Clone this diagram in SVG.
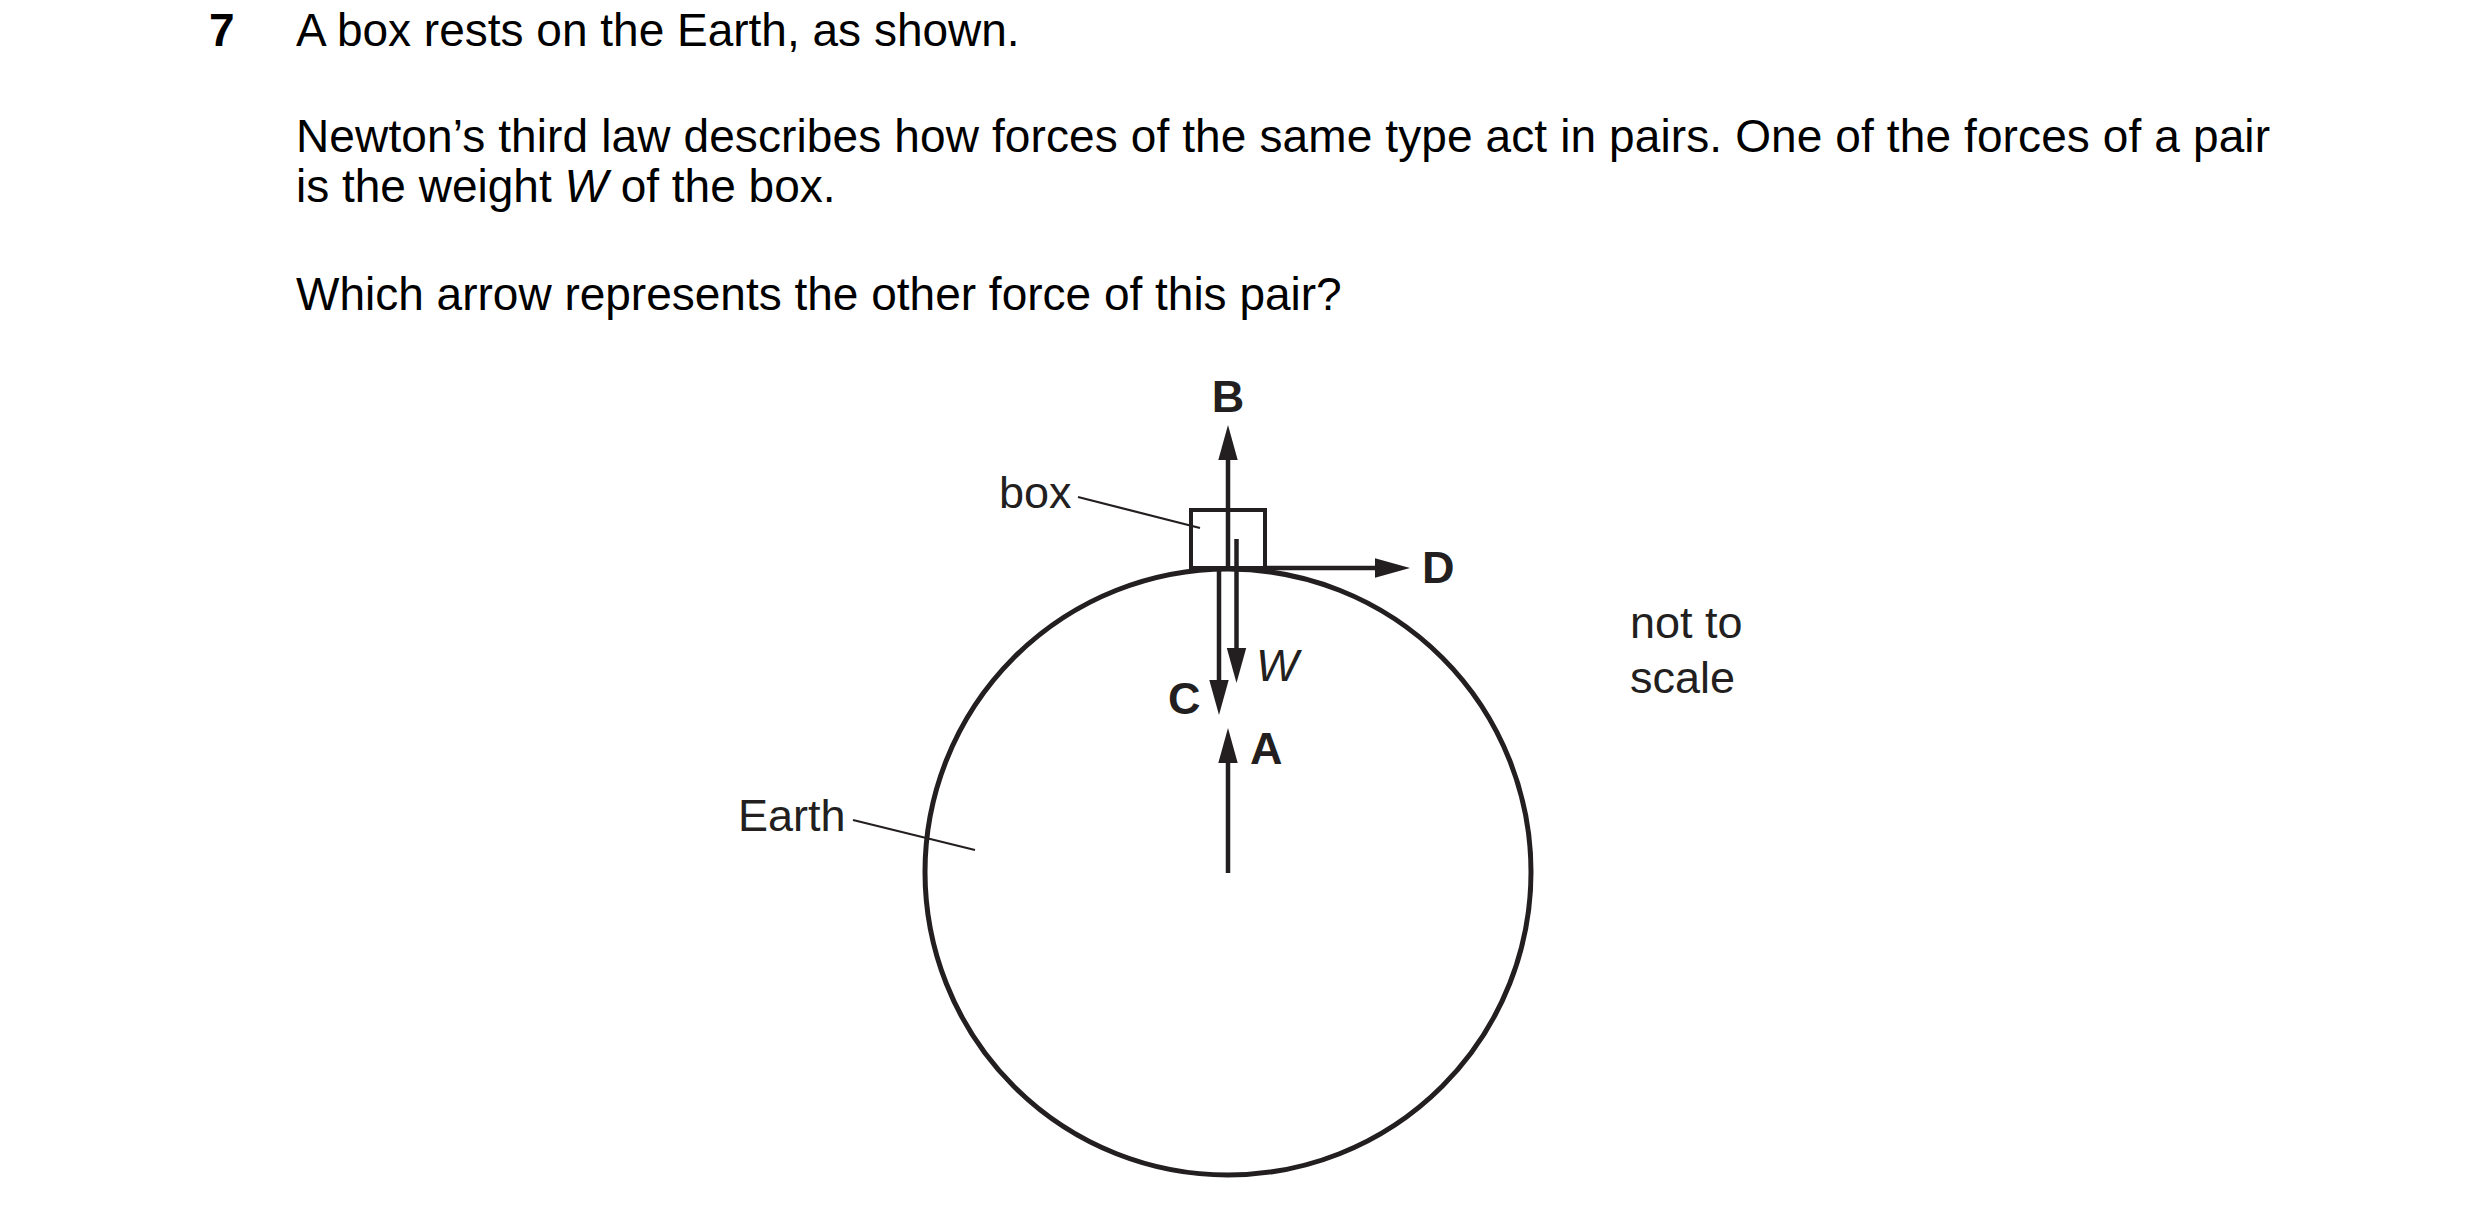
<svg xmlns="http://www.w3.org/2000/svg" width="2480" height="1216" viewBox="0 0 2480 1216">
  <style>
    .q { font-family: "Liberation Sans", Arial, sans-serif; font-size: 46px; fill: #000; }
    .lbl { font-family: "Liberation Sans", Arial, sans-serif; font-size: 45px; fill: #231f20; }
    .bold { font-weight: bold; }
    .ital { font-style: italic; }
    .shaft { stroke: #231f20; stroke-width: 4.5; fill: none; }
    .lead { stroke: #231f20; stroke-width: 2.2; fill: none; }
  </style>
  <defs>
    <marker id="head" markerUnits="userSpaceOnUse" markerWidth="36" markerHeight="20" refX="0" refY="10" orient="auto" overflow="visible">
      <path d="M0,0.3 L35,10 L0,19.7 z" fill="#231f20"/>
    </marker>
  </defs>
  <rect width="2480" height="1216" fill="#fff"/>

  <g id="question">
    <text class="q bold" x="209" y="46">7</text>
    <text class="q" x="296" y="46">A box rests on the Earth, as shown.</text>
    <text class="q" x="296" y="152" textLength="1974" lengthAdjust="spacing">Newton’s third law describes how forces of the same type act in pairs. One of the forces of a pair</text>
    <text class="q" x="296" y="202">is the weight <tspan class="ital">W</tspan> of the box.</text>
    <text class="q" x="296" y="310">Which arrow represents the other force of this pair?</text>
  </g>

  <g id="earth">
    <circle cx="1228" cy="872" r="303" fill="none" stroke="#231f20" stroke-width="5"/>
    <text class="lbl" x="738" y="831">Earth</text>
  </g>

  <g id="box">
    <rect x="1191" y="510" width="74" height="58" fill="none" stroke="#231f20" stroke-width="4"/>
    <text class="lbl" x="999" y="508">box</text>
  </g>

  <g id="not-to-scale">
    <text class="lbl" x="1630" y="638">not to</text>
    <text class="lbl" x="1630" y="693">scale</text>
  </g>

  <g id="connectors">
    <line class="lead" x1="1078" y1="497" x2="1200" y2="528"/>
    <line class="lead" x1="853" y1="820" x2="975" y2="850"/>
    <line class="shaft" x1="1228" y1="568" x2="1228" y2="460" marker-end="url(#head)"/>
    <line class="shaft" x1="1236.5" y1="539" x2="1236.5" y2="648" marker-end="url(#head)"/>
    <line class="shaft" x1="1219" y1="568" x2="1219" y2="680" marker-end="url(#head)"/>
    <line class="shaft" x1="1228" y1="873" x2="1228" y2="763" marker-end="url(#head)"/>
    <line class="shaft" x1="1265" y1="568" x2="1375" y2="568" marker-end="url(#head)"/>
  </g>

  <g id="labels">
    <text class="lbl bold" x="1228" y="412" text-anchor="middle">B</text>
    <text class="lbl bold" x="1422" y="583">D</text>
    <text class="lbl bold" x="1168" y="714">C</text>
    <text class="lbl bold" x="1250" y="764">A</text>
    <text class="lbl ital" x="1256" y="681">W</text>
  </g>
</svg>
